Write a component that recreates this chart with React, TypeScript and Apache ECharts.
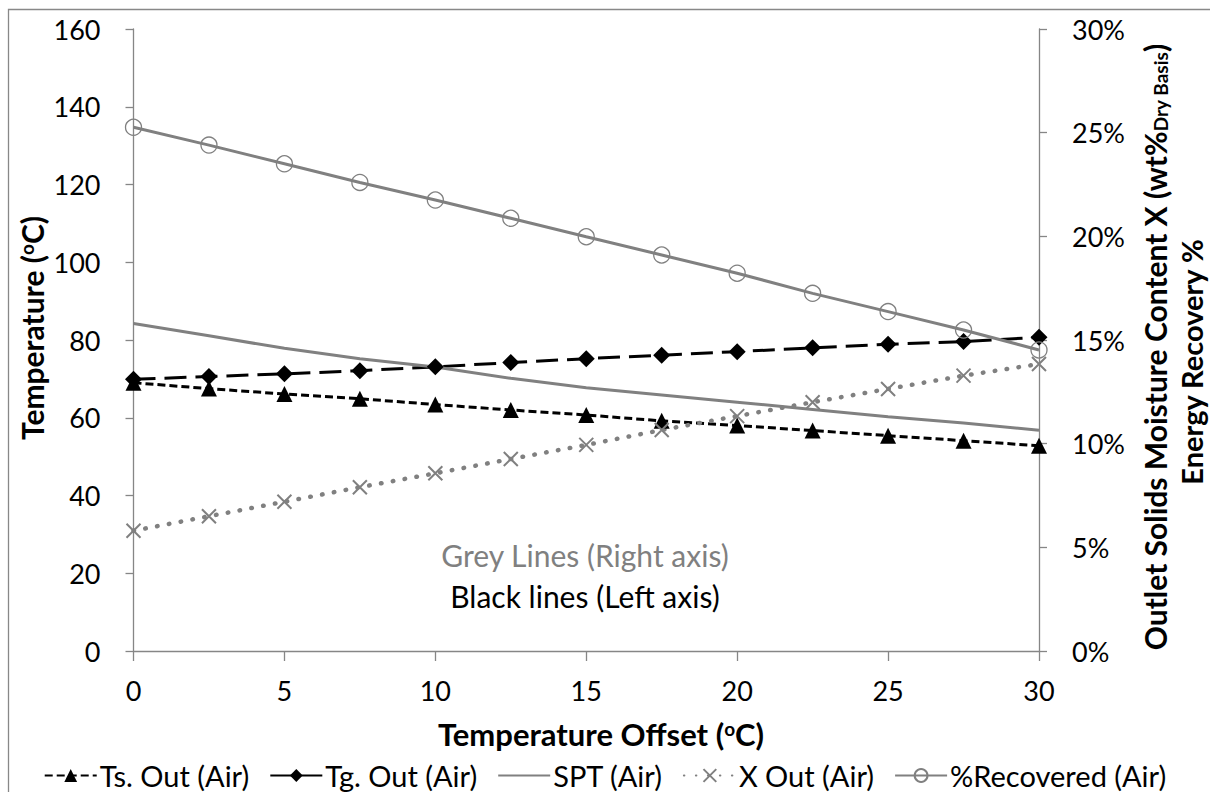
import React, { useEffect, useRef } from "react";
import * as echarts from "echarts";

const xValues = [0, 2.5, 5, 7.5, 10, 12.5, 15, 17.5, 20, 22.5, 25, 27.5, 30];
const tsOut = [69.0, 67.5, 66.1, 64.9, 63.4, 62.0, 60.7, 59.2, 58.0, 56.7, 55.4, 54.1, 52.8];
const tgOut = [69.9, 70.6, 71.3, 72.1, 73.1, 74.2, 75.2, 76.1, 77.0, 78.0, 78.9, 79.6, 80.7];
const sptPct = [15.8, 15.2, 14.6, 14.1, 13.7, 13.15, 12.7, 12.35, 12.0, 11.65, 11.3, 11.0, 10.65];
const xOutPct = [5.8, 6.5, 7.2, 7.9, 8.57, 9.26, 9.94, 10.66, 11.33, 12.0, 12.64, 13.28, 13.84];
const recoveredPct = [25.26, 24.4, 23.5, 22.6, 21.75, 20.87, 19.98, 19.1, 18.22, 17.25, 16.37, 15.48, 14.52];

const seriesNames = ["Ts. Out (Air)", "Tg. Out (Air)", "SPT (Air)", "X Out (Air)", "%Recovered (Air)"];

const FONT = "Lato";
const GREY = "#808080";
const AXIS_GREY = "#868686";

function pairs(ys: number[]) {
  return xValues.map((x, i) => [x, ys[i]]);
}

export default function App() {
  const ref = useRef<HTMLDivElement>(null);
  useEffect(() => {
    document.body.style.margin = "0";
    if (!ref.current) return;
    const chart = echarts.init(ref.current, undefined, { renderer: "svg" });
    const labelStyle = { fontFamily: FONT, fontSize: 27, color: "#000" };
    chart.setOption({
      animation: false,
      backgroundColor: "#fff",
      grid: { left: 133.5, right: 171, top: 29, bottom: 141, containLabel: false },
      xAxis: {
        type: "value",
        min: 0,
        max: 30,
        interval: 5,
        axisLine: { show: true, lineStyle: { color: AXIS_GREY, width: 1.3 } },
        axisTick: { show: true, inside: false, length: 10, lineStyle: { color: AXIS_GREY, width: 1.3 } },
        axisLabel: { ...labelStyle, margin: 26 },
        splitLine: { show: false },
      },
      yAxis: [
        {
          type: "value",
          min: 0,
          max: 160,
          interval: 20,
          axisLine: { show: true, lineStyle: { color: AXIS_GREY, width: 1.3 } },
          axisTick: { show: true, length: 8, lineStyle: { color: AXIS_GREY, width: 1.3 } },
          axisLabel: { ...labelStyle, margin: 33 },
          splitLine: { show: false },
        },
        {
          type: "value",
          min: 0,
          max: 30,
          interval: 5,
          position: "right",
          axisLine: { show: true, lineStyle: { color: AXIS_GREY, width: 1.3 } },
          axisTick: { show: true, length: 8, lineStyle: { color: AXIS_GREY, width: 1.3 } },
          axisLabel: { ...labelStyle, margin: 33, formatter: "{value}%" },
          splitLine: { show: false },
        },
      ],
      legend: {
        top: 756,
        left: "center",
        itemWidth: 52,
        itemHeight: 16,
        itemGap: 20,
        textStyle: { fontFamily: FONT, fontSize: 29, color: "#000", padding: [0, 0, 0, -2] },
        data: [
          seriesNames[0],
          seriesNames[1],
          { name: seriesNames[2], itemStyle: { opacity: 0 } },
          seriesNames[3],
          seriesNames[4],
        ],
      },
      series: [
        {
          name: seriesNames[0],
          type: "line",
          yAxisIndex: 0,
          data: pairs(tsOut),
          symbol: "triangle",
          symbolSize: 16,
          itemStyle: { color: "#000" },
          lineStyle: { color: "#000", width: 3, type: [8, 4] },
        },
        {
          name: seriesNames[1],
          type: "line",
          yAxisIndex: 0,
          data: pairs(tgOut),
          symbol: "diamond",
          symbolSize: 17,
          itemStyle: { color: "#000" },
          lineStyle: { color: "#000", width: 3, type: [22, 9] },
        },
        {
          name: seriesNames[2],
          type: "line",
          yAxisIndex: 1,
          data: pairs(sptPct),
          symbol: "none",
          itemStyle: { color: GREY },
          lineStyle: { color: GREY, width: 3 },
        },
        {
          name: seriesNames[3],
          type: "line",
          yAxisIndex: 1,
          data: pairs(xOutPct),
          symbol: "path://M0,0L10,10M10,0L0,10",
          symbolSize: 14,
          itemStyle: { color: "rgba(0,0,0,0)", borderColor: GREY, borderWidth: 2 },
          lineStyle: { color: GREY, width: 4.5, type: [0.5, 11.5], cap: "round" },
        },
        {
          name: seriesNames[4],
          type: "line",
          yAxisIndex: 1,
          data: pairs(recoveredPct),
          symbol: "circle",
          symbolSize: 16,
          itemStyle: { color: "rgba(0,0,0,0)", borderColor: GREY, borderWidth: 1.3 },
          lineStyle: { color: GREY, width: 3 },
        },
      ],
      graphic: [
        {
          type: "rect",
          silent: true,
          shape: { x: 8.5, y: 9.5, width: 1300, height: 900 },
          style: { fill: "none", stroke: "#888", lineWidth: 1.3 },
        },
        {
          type: "text",
          x: 32,
          y: 328,
          rotation: Math.PI / 2,
          style: {
            text: "{b|Temperature (}{s|o}{b|C)}",
            align: "center",
            verticalAlign: "middle",
            rich: {
              b: { fontFamily: FONT, fontSize: 30, fontWeight: "bold", fill: "#000" },
              s: { fontFamily: FONT, fontSize: 19, fontWeight: "bold", fill: "#000", verticalAlign: "top" },
            },
          },
        },
        {
          type: "text",
          x: 601,
          y: 734,
          style: {
            text: "{b|Temperature Offset (}{s|o}{b|C)}",
            align: "center",
            verticalAlign: "middle",
            rich: {
              b: { fontFamily: FONT, fontSize: 31, fontWeight: "bold", fill: "#000" },
              s: { fontFamily: FONT, fontSize: 19, fontWeight: "bold", fill: "#000", verticalAlign: "top" },
            },
          },
        },
        {
          type: "text",
          x: 1155,
          y: 347,
          rotation: Math.PI / 2,
          style: {
            text: "{b|Outlet Solids Moisture Content X (wt%}{s|Dry Basis}{b|)}",
            align: "center",
            verticalAlign: "middle",
            rich: {
              b: { fontFamily: FONT, fontSize: 30, fontWeight: "bold", fill: "#000" },
              s: { fontFamily: FONT, fontSize: 19, fontWeight: "bold", fill: "#000", verticalAlign: "bottom" },
            },
          },
        },
        {
          type: "text",
          x: 1191,
          y: 362,
          rotation: Math.PI / 2,
          style: {
            text: "Energy Recovery %",
            align: "center",
            verticalAlign: "middle",
            fontFamily: FONT,
            fontSize: 29,
            fontWeight: "bold",
            fill: "#000",
          },
        },
        {
          type: "text",
          x: 585,
          y: 555,
          style: {
            text: "Grey Lines (Right axis)",
            align: "center",
            verticalAlign: "middle",
            fontFamily: FONT,
            fontSize: 30,
            fill: GREY,
          },
        },
        {
          type: "text",
          x: 585,
          y: 596,
          style: {
            text: "Black lines (Left axis)",
            align: "center",
            verticalAlign: "middle",
            fontFamily: FONT,
            fontSize: 30,
            fill: "#000",
          },
        },
      ],
    });
    return () => chart.dispose();
  }, []);
  return (
    <div
      ref={ref}
      style={{ position: "fixed", left: 0, top: 0, width: 1210, height: 792 }}
    />
  );
}
